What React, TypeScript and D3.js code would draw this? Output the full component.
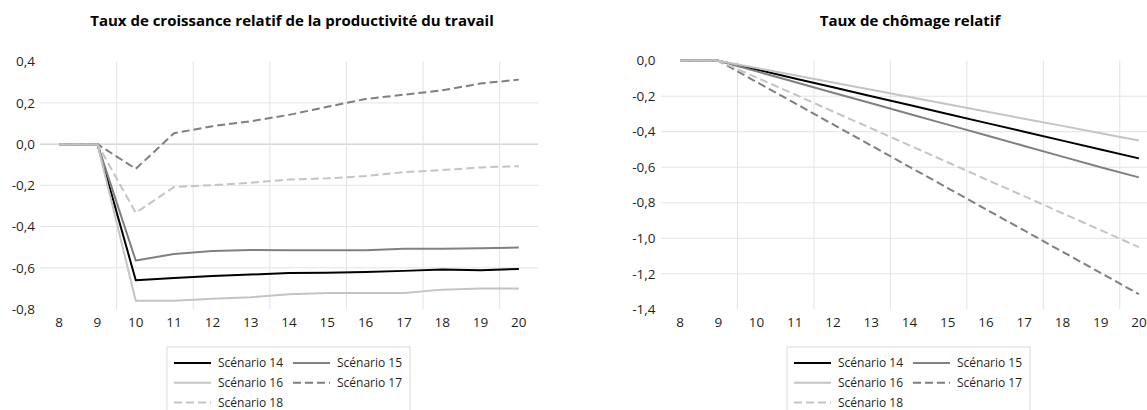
import React, { useEffect, useRef } from 'react';
import * as d3 from 'd3';

// Years on the x axis
const years = [8, 9, 10, 11, 12, 13, 14, 15, 16, 17, 18, 19, 20];

const seriesNames = ['Scénario 14', 'Scénario 15', 'Scénario 16', 'Scénario 17', 'Scénario 18'];

// Taux de croissance relatif de la productivité du travail
const prodS14 = [0, 0, -0.66, -0.65, -0.64, -0.633, -0.625, -0.624, -0.62, -0.615, -0.608, -0.612, -0.606];
const prodS15 = [0, 0, -0.565, -0.533, -0.518, -0.514, -0.515, -0.515, -0.515, -0.508, -0.508, -0.505, -0.502];
const prodS16 = [0, 0, -0.76, -0.76, -0.75, -0.743, -0.728, -0.722, -0.722, -0.722, -0.706, -0.7, -0.7];
const prodS17 = [0, 0, -0.12, 0.053, 0.087, 0.111, 0.142, 0.181, 0.219, 0.24, 0.261, 0.294, 0.313];
const prodS18 = [0, 0, -0.333, -0.208, -0.199, -0.187, -0.172, -0.166, -0.155, -0.136, -0.126, -0.113, -0.107];

// Taux de chômage relatif
const chomS14 = [0, 0, -0.05, -0.1, -0.15, -0.2, -0.25, -0.3, -0.35, -0.4, -0.45, -0.5, -0.55];
const chomS15 = [0, 0, -0.06, -0.12, -0.18, -0.24, -0.3, -0.36, -0.42, -0.48, -0.54, -0.6, -0.657];
const chomS16 = [0, 0, -0.041, -0.082, -0.123, -0.163, -0.204, -0.245, -0.286, -0.327, -0.367, -0.408, -0.449];
const chomS17 = [0, 0, -0.12, -0.239, -0.359, -0.478, -0.598, -0.717, -0.837, -0.956, -1.076, -1.195, -1.315];
const chomS18 = [0, 0, -0.095, -0.19, -0.286, -0.381, -0.477, -0.572, -0.668, -0.763, -0.859, -0.954, -1.05];

const prodTicks = [0.4, 0.2, 0, -0.2, -0.4, -0.6, -0.8];
const chomTicks = [0, -0.2, -0.4, -0.6, -0.8, -1.0, -1.2, -1.4];

const styles = [
  { color: '#000000', dash: null },
  { color: '#808080', dash: null },
  { color: '#c4c4c4', dash: null },
  { color: '#7f7f7f', dash: '8 4' },
  { color: '#c4c4c4', dash: '8 4' },
];

const FONT = "'Open Sans', 'Liberation Sans', sans-serif";

const frFormat = d3.formatLocale({
  decimal: ',',
  thousands: ' ',
  grouping: [3],
  currency: ['', ' €'],
  minus: '-',
}).format('.1f');

interface PanelSpec {
  title: string;
  titleX: number;
  series: number[][];
  ticks: number[];
  x0: number;
  x1: number;
  yTop: number;
  yBottom: number;
  labelRight: number;
  zeroLine: boolean;
  legendX: number;
}

const panels: PanelSpec[] = [
  {
    title: 'Taux de croissance relatif de la productivité du travail',
    titleX: 292,
    series: [prodS14, prodS15, prodS16, prodS17, prodS18],
    ticks: prodTicks,
    x0: 40,
    x1: 538,
    yTop: 61.7,
    yBottom: 309,
    labelRight: 35,
    zeroLine: true,
    legendX: 167,
  },
  {
    title: 'Taux de chômage relatif',
    titleX: 910,
    series: [chomS14, chomS15, chomS16, chomS17, chomS18],
    ticks: chomTicks,
    x0: 661,
    x1: 1158,
    yTop: 60.7,
    yBottom: 309.3,
    labelRight: 655.5,
    zeroLine: false,
    legendX: 787,
  },
];

const App: React.FC = () => {
  const svgRef = useRef<SVGSVGElement>(null);

  useEffect(() => {
    if (!svgRef.current) return;
    const svg = d3.select(svgRef.current);
    svg.selectAll('*').remove();

    panels.forEach(p => {
      const g = svg.append('g');

      const x = d3
        .scaleBand<number>()
        .domain(years)
        .range([p.x0, p.x1])
        .padding(0);
      const bw = x.bandwidth();
      const cx = (d: number) => (x(d) || 0) + bw / 2;

      const yMax = d3.max(p.ticks) as number;
      const yMin = d3.min(p.ticks) as number;
      const y = d3.scaleLinear().domain([yMin, yMax]).range([p.yBottom, p.yTop]);

      // horizontal gridlines (not top / bottom)
      g.selectAll('.hgrid')
        .data(p.ticks.filter(t => t !== yMax && t !== yMin))
        .enter()
        .append('line')
        .attr('x1', p.x0)
        .attr('x2', p.x1)
        .attr('y1', d => y(d))
        .attr('y2', d => y(d))
        .attr('stroke', d => (p.zeroLine && d === 0 ? '#bfbfbf' : '#e3e3e3'))
        .attr('stroke-width', 1);

      // vertical gridlines every second category boundary
      const boundaries = d3.range(2, years.length, 2);
      g.selectAll('.vgrid')
        .data(boundaries)
        .enter()
        .append('line')
        .attr('x1', d => p.x0 + d * bw)
        .attr('x2', d => p.x0 + d * bw)
        .attr('y1', p.yTop)
        .attr('y2', p.yBottom)
        .attr('stroke', '#e3e3e3')
        .attr('stroke-width', 1);

      // y tick labels
      g.selectAll('.ylab')
        .data(p.ticks)
        .enter()
        .append('text')
        .attr('x', p.labelRight)
        .attr('y', d => y(d))
        .attr('dy', '0.35em')
        .attr('text-anchor', 'end')
        .style('font-family', FONT)
        .style('font-size', '13.5px')
        .style('fill', '#1f1f1f')
        .text(d => frFormat(d));

      // x tick labels
      g.selectAll('.xlab')
        .data(years)
        .enter()
        .append('text')
        .attr('x', d => cx(d))
        .attr('y', 327)
        .attr('text-anchor', 'middle')
        .style('font-family', FONT)
        .style('font-size', '13.5px')
        .style('fill', '#1f1f1f')
        .text(d => String(d));

      // lines
      const line = d3
        .line<number>()
        .x((_, i) => cx(years[i]))
        .y(d => y(d));

      p.series.forEach((s, i) => {
        g.append('path')
          .datum(s)
          .attr('d', line)
          .attr('fill', 'none')
          .attr('stroke', styles[i].color)
          .attr('stroke-width', 2)
          .attr('stroke-dasharray', styles[i].dash)
          .attr('stroke-linejoin', 'round');
      });

      // title
      g.append('text')
        .attr('x', p.titleX)
        .attr('y', 26)
        .attr('text-anchor', 'middle')
        .style('font-family', FONT)
        .style('font-weight', 'bold')
        .style('font-size', '15px')
        .style('fill', '#000')
        .text(p.title);

      // legend box
      const lg = g.append('g').attr('transform', `translate(${p.legendX},347)`);
      lg.append('rect')
        .attr('x', 0)
        .attr('y', 0)
        .attr('width', 243)
        .attr('height', 80)
        .attr('fill', '#fff')
        .attr('stroke', '#d9d9d9');

      seriesNames.forEach((name, i) => {
        const col = i % 2;
        const row = Math.floor(i / 2);
        const lx = 7 + col * 119;
        const ly = 16 + row * 19.8;
        lg.append('line')
          .attr('x1', lx)
          .attr('x2', lx + 37)
          .attr('y1', ly)
          .attr('y2', ly)
          .attr('stroke', styles[i].color)
          .attr('stroke-width', 2)
          .attr('stroke-dasharray', styles[i].dash);
        lg.append('text')
          .attr('x', lx + 44)
          .attr('y', ly)
          .attr('dy', '0.35em')
          .style('font-family', FONT)
          .style('font-size', '12px')
          .style('fill', '#1f1f1f')
          .text(name);
      });
    });
  }, []);

  return (
    <div style={{ position: 'absolute', left: 0, top: 0 }}>
      <svg ref={svgRef} width={1147} height={410} style={{ display: 'block', background: '#fff' }}></svg>
    </div>
  );
};

export default App;
